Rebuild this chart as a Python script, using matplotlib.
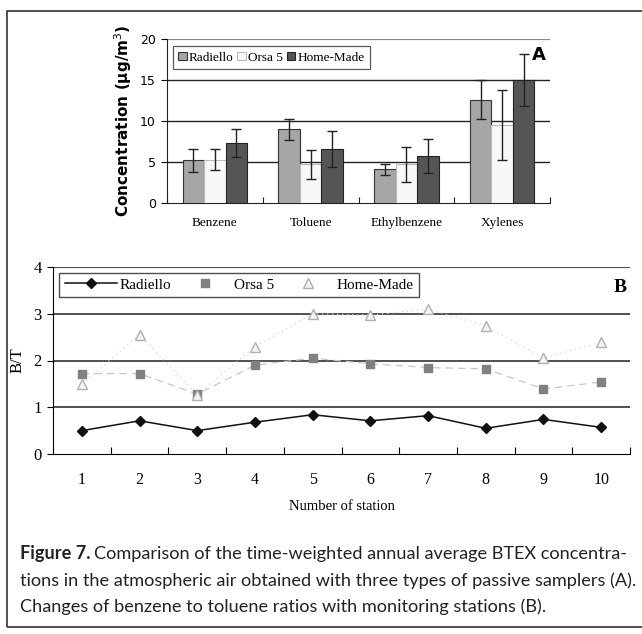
""" Figure 7: BTEX concentrations (A) and B/T ratios (B) for three passive samplers """

import numpy as np
import matplotlib.pyplot as plt
from matplotlib.patches import Rectangle
from matplotlib import font_manager

# Panel A data
compounds = ["Benzene", "Toluene", "Ethylbenzene", "Xylenes"]
radiello_conc = [5.2, 9.0, 4.1, 12.6]
radiello_err = [1.4, 1.3, 0.7, 2.4]
orsa_conc = [5.3, 4.7, 4.7, 9.5]
orsa_err = [1.3, 1.8, 2.1, 4.3]
homemade_conc = [7.3, 6.6, 5.7, 15.0]
homemade_err = [1.7, 2.2, 2.1, 3.2]

# Panel B data
stations = [1, 2, 3, 4, 5, 6, 7, 8, 9, 10]
radiello_bt = [0.50, 0.71, 0.50, 0.68, 0.84, 0.71, 0.82, 0.55, 0.74, 0.57]
orsa_bt = [1.72, 1.72, 1.28, 1.90, 2.05, 1.93, 1.85, 1.82, 1.39, 1.54]
homemade_bt = [1.49, 2.55, 1.27, 2.29, 3.00, 2.97, 3.10, 2.74, 2.05, 2.39]

caption = ["Comparison of the time-weighted annual average BTEX concentra-",
           "tions in the atmospheric air obtained with three types of passive samplers (A).",
           "Changes of benzene to toluene ratios with monitoring stations (B)."]

serif = "Liberation Serif"
names = {f.name for f in font_manager.fontManager.ttflist}
cap_font = "Liberation Sans Narrow" if "Liberation Sans Narrow" in names else "Lato"

fig = plt.figure(figsize=(6.42, 6.34), dpi=100)

# outer frame
fig.patches.append(Rectangle((7 / 642, 1 - 627 / 634), 640 / 642, 616 / 634,
                             transform=fig.transFigure, fill=False,
                             edgecolor="#333333", linewidth=1.2))

# ---------------- Panel A ----------------
ax1 = fig.add_axes([167 / 642, 1 - 203 / 634, 383 / 642, 164 / 634])
x = np.arange(len(compounds))
w = 0.225
err_kw = dict(ecolor="#222222", elinewidth=1, capsize=3.5, capthick=1)
ax1.bar(x - w, radiello_conc, w, yerr=radiello_err, color="#a6a6a6",
        edgecolor="#333333", linewidth=0.8, label="Radiello", error_kw=err_kw, zorder=3)
ax1.bar(x, orsa_conc, w, yerr=orsa_err, color="#f8f8f8",
        edgecolor="#bbbbbb", linewidth=0.8, label="Orsa 5", error_kw=err_kw, zorder=3)
ax1.bar(x + w, homemade_conc, w, yerr=homemade_err, color="#555555",
        edgecolor="#222222", linewidth=0.8, label="Home-Made", error_kw=err_kw, zorder=3)

ax1.set_xlim(-0.5, len(compounds) - 0.5)
ax1.set_ylim(0, 20)
ax1.set_yticks([0, 5, 10, 15, 20])
for yv in [5, 10, 15]:
    ax1.axhline(yv, color="#222222", linewidth=1, zorder=1)
ax1.axhline(20, color="#888888", linewidth=1.6, zorder=1)
for s in ["top", "right"]:
    ax1.spines[s].set_visible(False)
ax1.spines["left"].set_color("#222222")
ax1.spines["bottom"].set_color("#222222")

ax1.set_xticks(np.arange(-0.5, len(compounds)), minor=False)
ax1.set_xticklabels([])
ax1.set_xticks(x, minor=True)
ax1.set_xticklabels(compounds, minor=True, family=serif, fontsize=9.5)
ax1.tick_params(axis="x", which="major", direction="in", length=4, color="#222222")
ax1.tick_params(axis="x", which="minor", length=0, pad=10)
ax1.tick_params(axis="y", direction="out", length=4, labelsize=9, pad=4)
ax1.set_ylabel("Concentration (µg/m$^3$)", fontsize=11, fontweight="bold", labelpad=4)

leg1 = ax1.legend(loc="upper left", bbox_to_anchor=(0.015, 0.955), ncol=3,
                  prop={"family": serif, "size": 9.5}, frameon=True, fancybox=False,
                  handlelength=0.65, handleheight=0.65, handletextpad=0.15,
                  columnspacing=0.3, borderpad=0.4, borderaxespad=0)
leg1.get_frame().set_edgecolor("#333333")
leg1.get_frame().set_linewidth(0.9)
ax1.text(0.99, 0.90, "A", transform=ax1.transAxes, ha="right", va="center",
         fontsize=13, fontweight="bold")

# ---------------- Panel B ----------------
ax2 = fig.add_axes([53 / 642, 1 - 454 / 634, 577 / 642, 187 / 634])
ax2.plot(stations, radiello_bt, color="#111111", linewidth=1.1, marker="D",
         markersize=5, label="Radiello", zorder=4)
ax2.plot(stations, orsa_bt, color="#c8c8c8", linewidth=0.9, linestyle=(0, (6, 4)),
         zorder=2)
ax2.plot(stations, orsa_bt, linestyle="none", marker="s", markersize=6,
         color="#808080", label="Orsa 5", zorder=3)
ax2.plot(stations, homemade_bt, color="#d4d4d4", linewidth=0.9, linestyle=(0, (1, 3)),
         zorder=2)
ax2.plot(stations, homemade_bt, linestyle="none", marker="^", markersize=6.5,
         markerfacecolor="#f4f4f4", markeredgecolor="#b0b0b0", label="Home-Made", zorder=3)

ax2.set_xlim(0.5, 10.5)
ax2.set_ylim(0, 4)
ax2.set_yticks([0, 1, 2, 3, 4])
for yv in [1, 2, 3]:
    ax2.axhline(yv, color="#222222", linewidth=1.1, zorder=1)
ax2.axhline(4, color="#555555", linewidth=1.6, zorder=1)
for s in ["top", "right"]:
    ax2.spines[s].set_visible(False)

ax2.set_xticks(np.arange(0.5, 11), minor=False)
ax2.set_xticklabels([])
ax2.set_xticks(stations, minor=True)
ax2.set_xticklabels([str(s) for s in stations], minor=True, family=serif, fontsize=11.5)
ax2.tick_params(axis="x", which="major", direction="in", length=5)
ax2.tick_params(axis="x", which="minor", length=0, pad=13)
ax2.tick_params(axis="y", direction="out", length=4, pad=4)
for lab in ax2.get_yticklabels():
    lab.set_family(serif)
    lab.set_fontsize(12)
ax2.set_xlabel("Number of station", family=serif, fontsize=10.5)
ax2.xaxis.set_label_coords(0.5, -0.245)
ax2.set_ylabel("B/T", family=serif, fontsize=12, labelpad=6)

leg2 = ax2.legend(loc="upper left", bbox_to_anchor=(0.011, 0.97), ncol=3,
                  prop={"family": serif, "size": 11}, frameon=True, fancybox=False,
                  handlelength=3.4, handletextpad=0.2, columnspacing=0.5,
                  borderpad=0.35, borderaxespad=0)
leg2.get_frame().set_edgecolor("#222222")
leg2.get_frame().set_linewidth(1.0)
ax2.text(0.995, 0.89, "B", transform=ax2.transAxes, ha="right", va="center",
         family=serif, fontsize=14, fontweight="bold")

# ---------------- caption ----------------
cap_size = 13
head = fig.text(20 / 642, 1 - 554 / 634, "Figure 7.", fontsize=cap_size,
                fontweight="bold", family=cap_font, color="#222222", va="center")
lines = [fig.text(20 / 642, 1 - y / 634, t, fontsize=cap_size, family=cap_font,
                  color="#222222", va="center")
         for y, t in zip([554, 581, 607], caption)]

# fit the caption to the column width (20 px .. 633 px)
renderer = fig.canvas.get_renderer()
wid = lines[1].get_window_extent(renderer).width
scale = 613 / wid
for t in [head] + lines:
    t.set_fontsize(cap_size * scale)
hw = head.get_window_extent(renderer).width
lines[0].set_x((20 + hw + 4) / 642)

fig.savefig("out.png", dpi=100)
